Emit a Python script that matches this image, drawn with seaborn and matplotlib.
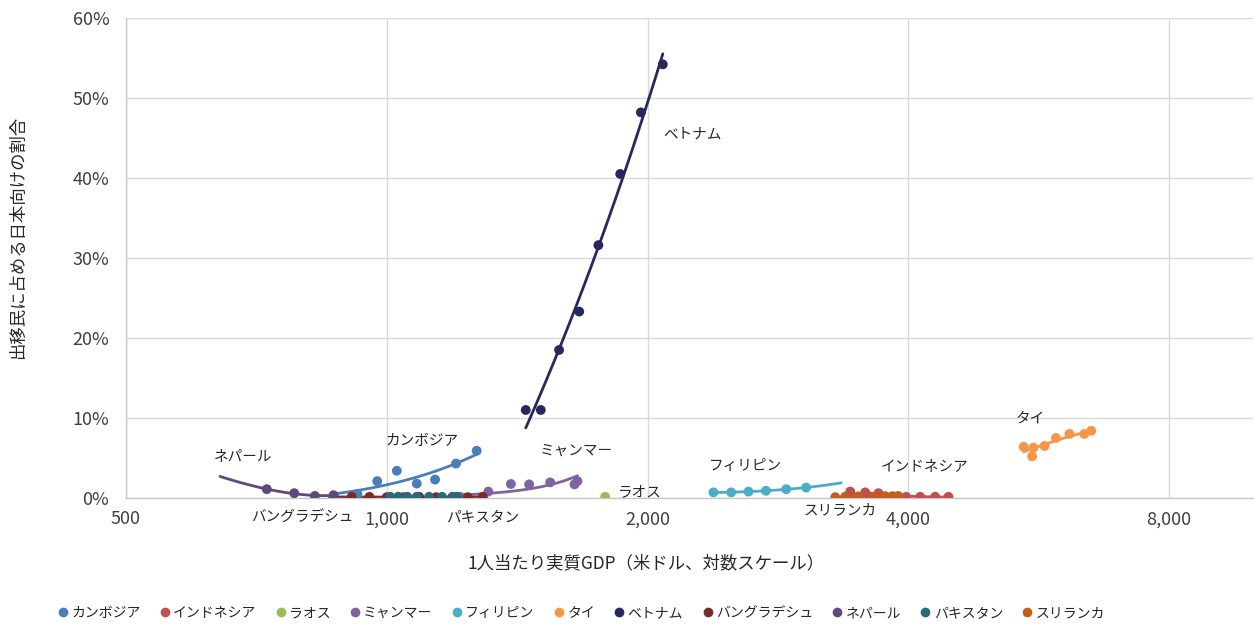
import numpy as np
import pandas as pd
import matplotlib
matplotlib.use("Agg")
import matplotlib.pyplot as plt
from matplotlib.ticker import FixedLocator, FuncFormatter
import seaborn as sns

# ---- data: real GDP per capita (USD) and share of emigrants going to Japan (%) ----
countries = ["カンボジア", "インドネシア", "ラオス", "ミャンマー", "フィリピン", "タイ",
             "ベトナム", "バングラデシュ", "ネパール", "パキスタン", "スリランカ"]
colors = ["#4a7ebb", "#c0504d", "#9bbb59", "#8064a2", "#4bacc6", "#f79646",
          "#27285e", "#772c2a", "#5f497a", "#276a7c", "#c0601a"]

cambodia_gdp = [867, 925, 975, 1027, 1083, 1137, 1202, 1270]
cambodia_share = [0.2, 0.5, 2.1, 3.4, 1.8, 2.3, 4.3, 5.9]
indonesia_gdp = [3390, 3428, 3567, 3610, 3695, 3760, 3830, 3978, 4129, 4296, 4451]
indonesia_share = [0.15, 0.8, 0.7, 0.2, 0.6, 0.2, 0.2, 0.15, 0.15, 0.15, 0.15]
laos_gdp = [1787]
laos_share = [0.15]
myanmar_gdp = [1215, 1310, 1391, 1460, 1544, 1647, 1660]
myanmar_share = [0.15, 0.8, 1.75, 1.7, 1.95, 1.7, 2.1]
philippines_gdp = [2383, 2498, 2616, 2740, 2892, 3049]
philippines_share = [0.7, 0.7, 0.8, 0.9, 1.1, 1.3]
thailand_gdp = [5434, 5560, 5580, 5746, 5922, 6140, 6386, 6505]
thailand_share = [6.4, 5.2, 6.3, 6.5, 7.5, 8.0, 8.0, 8.4]
vietnam_gdp = [1447, 1506, 1581, 1668, 1755, 1860, 1965, 2083]
vietnam_share = [11.0, 11.0, 18.5, 23.3, 31.6, 40.5, 48.2, 54.2]
bangladesh_gdp = [868, 911, 955, 1000, 1045, 1090, 1140, 1190, 1240, 1291]
bangladesh_share = [0.1, 0.15, 0.15, 0.1, 0.1, 0.15, 0.1, 0.1, 0.1, 0.15]
nepal_gdp = [727, 782, 826, 868]
nepal_share = [1.1, 0.6, 0.25, 0.35]
pakistan_gdp = [1009, 1031, 1056, 1083, 1119, 1158, 1192, 1205]
pakistan_share = [0.15, 0.15, 0.15, 0.15, 0.15, 0.15, 0.15, 0.15]
srilanka_gdp = [3294, 3383, 3500, 3644, 3762, 3842, 3894]
srilanka_share = [0.1, 0.15, 0.2, 0.15, 0.2, 0.2, 0.25]

series = {
    "カンボジア": (cambodia_gdp, cambodia_share),
    "インドネシア": (indonesia_gdp, indonesia_share),
    "ラオス": (laos_gdp, laos_share),
    "ミャンマー": (myanmar_gdp, myanmar_share),
    "フィリピン": (philippines_gdp, philippines_share),
    "タイ": (thailand_gdp, thailand_share),
    "ベトナム": (vietnam_gdp, vietnam_share),
    "バングラデシュ": (bangladesh_gdp, bangladesh_share),
    "ネパール": (nepal_gdp, nepal_share),
    "パキスタン": (pakistan_gdp, pakistan_share),
    "スリランカ": (srilanka_gdp, srilanka_share),
}

# trend type per country (default: 2nd-order polynomial)
trend_kind = {"ミャンマー": "exp"}
# trend lines extended beyond the observed range
trend_backward = {"ネパール": 642}
trend_forward = {"フィリピン": 3346}

# country name labels placed in data coordinates (GDP, %)
label_pos = {
    "ベトナム": (2085, 45.4), "カンボジア": (997, 7.1), "ネパール": (632, 5.25),
    "ミャンマー": (1503, 5.9), "バングラデシュ": (697, -2.5), "パキスタン": (1171, -2.4),
    "ラオス": (1850, 0.75), "フィリピン": (2356, 4.0), "インドネシア": (3722, 4.0),
    "スリランカ": (3025, -1.5), "タイ": (5315, 9.9),
}

x_ticks = [500, 1000, 2000, 4000, 8000]
y_ticks = [0, 10, 20, 30, 40, 50, 60]

# ---- tidy frames ----
pts = pd.DataFrame([(c, g, s) for c, (gs, ss) in series.items() for g, s in zip(gs, ss)],
                   columns=["国", "GDP", "割合"])

trend_rows = []
for c, (gs, ss) in series.items():
    if len(gs) < 3:
        continue
    gs_a, ss_a = np.asarray(gs, float), np.asarray(ss, float)
    lo = trend_backward.get(c, gs_a.min())
    hi = trend_forward.get(c, gs_a.max())
    grid = np.geomspace(lo, hi, 80)
    if trend_kind.get(c) == "exp":
        b, ln_a = np.polyfit(gs_a, np.log(ss_a), 1)
        fitted = np.exp(ln_a + b * grid)
    else:
        fitted = np.polyval(np.polyfit(gs_a, ss_a, 2), grid)
    trend_rows += [(c, g, v) for g, v in zip(grid, fitted)]
trend = pd.DataFrame(trend_rows, columns=["国", "GDP", "割合"])

# ---- drawing ----
sns.set_theme(style="white")
plt.rcParams["font.family"] = ["Noto Sans CJK JP", "DejaVu Sans"]

fig = plt.figure(figsize=(12.55, 6.26), dpi=100)
ax = fig.add_axes([0.1004, 0.2045, 0.898, 0.7668])

palette = dict(zip(countries, colors))
sns.lineplot(data=trend, x="GDP", y="割合", hue="国", hue_order=countries,
             palette=palette, linewidth=2.0, legend=False, sort=True,
             estimator=None, ax=ax, zorder=2)
sns.scatterplot(data=pts, x="GDP", y="割合", hue="国", hue_order=countries,
                palette=palette, s=50, edgecolor="none", linewidth=0,
                ax=ax, zorder=3)

ax.set_xscale("log")
ax.set_xlim(500, 10000)
ax.set_ylim(0, 60)
ax.xaxis.set_major_locator(FixedLocator(x_ticks))
ax.xaxis.set_minor_locator(FixedLocator([]))
ax.xaxis.set_major_formatter(FuncFormatter(lambda v, p: f"{v:,.0f}"))
ax.yaxis.set_major_locator(FixedLocator(y_ticks))
ax.yaxis.set_major_formatter(FuncFormatter(lambda v, p: f"{v:.0f}%"))
ax.grid(True, which="major", color="#d9d9d9", linewidth=1.0)
ax.set_axisbelow(True)
for side in ["top", "right"]:
    ax.spines[side].set_visible(False)
for side in ["left", "bottom"]:
    ax.spines[side].set_color("#c8c8c8")
    ax.spines[side].set_linewidth(1.0)
ax.tick_params(axis="both", length=0, labelsize=13, colors="#404040")
ax.tick_params(axis="x", pad=9)
ax.tick_params(axis="y", pad=12)
ax.set_xlabel("")
ax.set_ylabel("")

for name, (gx, gy) in label_pos.items():
    ax.text(gx, gy, name, fontsize=10.5, color="#262626", ha="left", va="center",
            clip_on=False, zorder=4)

fig.text(0.5147, 0.1006, "1人当たり実質GDP（米ドル、対数スケール）", fontsize=12.5,
         color="#262626", ha="center", va="center")
fig.text(0.0143, 0.6206, "出移民に占める日本向けの割合", fontsize=12.5,
         color="#262626", ha="center", va="center", rotation=90)

handles, labels = ax.get_legend_handles_labels()
for h in handles:
    if hasattr(h, "set_markersize"):
        h.set_markersize(7)
leg = ax.legend(handles, labels, loc="center", bbox_to_anchor=(0.462, 0.0208),
                bbox_transform=fig.transFigure, ncol=11, frameon=False,
                fontsize=10, handletextpad=0.0, columnspacing=1.15,
                handlelength=1.2, borderaxespad=0)
for t in leg.get_texts():
    t.set_color("#262626")

fig.savefig("out.png", dpi=100)
